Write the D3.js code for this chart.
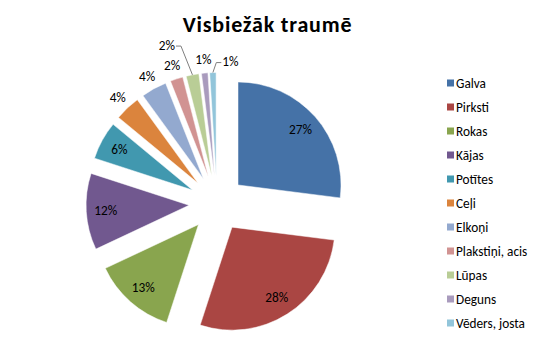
<!DOCTYPE html>
<html>
<head>
<meta charset="utf-8">
<script src="https://cdn.jsdelivr.net/npm/d3@7"></script>
<style>
  body { margin: 0; background: #fff; }
  svg { display: block; }
  text { font-family: Carlito, Calibri, Lato, sans-serif; fill: #000; }
</style>
</head>
<body>
<div id="chart"></div>
<script>
// chart data
var categories = ["Galva", "Pirksti", "Rokas", "Kājas", "Potītes", "Ceļi", "Elkoņi",
    "Plakstiņi, acis", "Lūpas", "Deguns", "Vēders, josta"];
var shares = [27, 28, 13, 12, 6, 4, 4, 2, 2, 1, 1];
var colors = ["#4572A7", "#AA4643", "#89A54E", "#71588F", "#4198AF", "#DB843D",
    "#93A9CF", "#D19392", "#B9CD96", "#A99BBD", "#92C5DA"];
var title = "Visbiežāk traumē";

// label placement: inside / outside, plus nudges for the crowded ones
var labelMode = ["in", "in", "in", "in", "in", "out", "out", "out", "out", "out", "out"];
var labelNudge = {8: [-23, -16], 10: [18, 3]};

var width = 538, height = 348;
var cx = 217, cy = 203.5, radius = 103, explode = 28;

var svg = d3.select("#chart")
    .append("svg")
    .attr("width", width)
    .attr("height", height);

//title
svg.append("text")
    .attr("x", 267.5)
    .attr("y", 31.5)
    .attr("text-anchor", "middle")
    .style("font-size", "22px")
    .style("font-weight", "bold")
    .style("letter-spacing", "0.8px")
    .text(title);

var pie = d3.pie().sort(null).value(function (d) { return d; });
var arcs = pie(shares);

var arc = d3.arc().innerRadius(0).outerRadius(radius);
var inArc = d3.arc().innerRadius(radius * 0.81).outerRadius(radius * 0.81);
var outArc = d3.arc().innerRadius(radius + 14).outerRadius(radius + 14);
var edgeArc = d3.arc().innerRadius(radius).outerRadius(radius);

var fmt = function (v) { return Math.round(v / d3.sum(shares) * 100) + "%"; };

var pane = svg.append("g").attr("transform", "translate(" + cx + "," + cy + ")");

var slices = pane.selectAll(".slice")
    .data(arcs)
    .enter().append("g")
    .attr("class", "slice")
    .attr("transform", function (d) {
        var m = (d.startAngle + d.endAngle) / 2;
        return "translate(" + (explode * Math.sin(m)) + "," + (-explode * Math.cos(m)) + ")";
    });

slices.append("path")
    .attr("d", arc)
    .attr("fill", function (d, i) { return colors[i]; })
    .attr("stroke", "#fff")
    .attr("stroke-width", 0.5);

// labels
slices.each(function (d, i) {
    var g = d3.select(this);
    var p = labelMode[i] === "in" ? inArc.centroid(d) : outArc.centroid(d);
    var nudge = labelNudge[i];
    if (nudge) {
        p = [p[0] + nudge[0], p[1] + nudge[1]];
    }
    var t = g.append("text")
        .attr("x", p[0])
        .attr("y", p[1])
        .attr("dy", "0.35em")
        .attr("text-anchor", "middle")
        .style("font-size", "13.3px")
        .text(fmt(d.value));

    if (nudge) {
        var half = t.node().getComputedTextLength() / 2;
        var e = edgeArc.centroid(d);
        var side = p[0] < e[0] ? 1 : -1;
        var x1 = p[0] + side * (half + 1);
        var x2 = x1 + side * 5;
        var y1 = p[1] + 1;
        g.insert("path", "text")
            .attr("d", "M" + x1 + "," + y1 + "L" + x2 + "," + y1 + "L" + e[0] + "," + e[1])
            .attr("fill", "none")
            .attr("stroke", "#7f7f7f")
            .attr("stroke-width", 1);
    }
});

// legend
var legend = svg.append("g").attr("transform", "translate(447,83)");
var rows = legend.selectAll(".row")
    .data(categories)
    .enter().append("g")
    .attr("class", "row")
    .attr("transform", function (d, i) { return "translate(0," + (i * 24) + ")"; });

rows.append("rect")
    .attr("x", 0)
    .attr("y", -3.5)
    .attr("width", 7)
    .attr("height", 7)
    .attr("fill", function (d, i) { return colors[i]; });

rows.append("text")
    .attr("x", 9)
    .attr("y", 0)
    .attr("dy", "0.35em")
    .style("font-size", "13.3px")
    .text(function (d) { return d; });
</script>
</body>
</html>
